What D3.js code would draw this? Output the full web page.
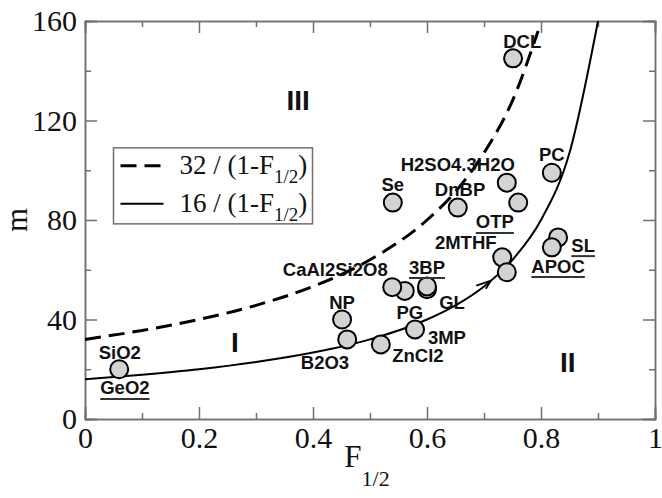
<!DOCTYPE html>
<html>
<head>
<meta charset="utf-8">
<script src="https://cdn.jsdelivr.net/npm/d3@7"></script>
<style>
  body { margin: 0; background: #fff; }
  svg { display: block; }
</style>
</head>
<body>
<div id="chart"></div>
<script>
// points: F1/2 vs fragility index m
const names = ["SiO2", "DCL", "PC", "H2SO4.3H2O", "Se", "DnBP", "OTP", "2MTHF", "GL*",
  "SL", "APOC", "PG", "CaAl2Si2O8", "GL", "3BP", "NP", "B2O3", "ZnCl2", "3MP"];
const fHalf = [0.06, 0.751, 0.819, 0.740, 0.540, 0.654, 0.760, 0.732, 0.740,
  0.830, 0.819, 0.561, 0.539, 0.600, 0.600, 0.451, 0.460, 0.519, 0.579];
const mVals = [20, 145, 99, 95, 87, 85, 87, 65, 59,
  73, 69, 51.5, 53, 52.2, 53.3, 40, 32, 30, 36];

// curves
const solidF = [0, 0.1, 0.2, 0.3, 0.4, 0.5, 0.6, 0.65, 0.7, 0.75, 0.8, 0.85, 0.9];
const solidM = [16, 17.8, 20, 22.9, 26.7, 32, 40, 45.7, 53.3, 64, 80, 107, 160];
const dashF = [0, 0.1, 0.2, 0.3, 0.4, 0.5, 0.6, 0.65, 0.7, 0.75, 0.795];
const dashM = [32, 35.6, 40, 45.7, 53.3, 64, 80, 91.4, 107, 128, 156];

// point labels (text, F, m of label centre)
const labelText = ["DCL", "PC", "H2SO4.3H2O", "Se", "DnBP", "OTP", "2MTHF", "CaAl2Si2O8", "3BP",
  "NP", "PG", "GL", "3MP", "ZnCl2", "B2O3", "SiO2", "GeO2", "APOC", "SL"];
const labelF = [0.767, 0.819, 0.654, 0.540, 0.658, 0.719, 0.668, 0.439, 0.600,
  0.451, 0.570, 0.644, 0.635, 0.584, 0.421, 0.061, 0.070, 0.830, 0.874];
const labelM = [151.6, 106.5, 102.5, 94.1, 92.1, 79.2, 70.8, 59.9, 61.1,
  47.0, 43.0, 47.0, 32.6, 25.7, 22.9, 26.9, 12.5, 61.5, 69.9];
const underlined = ["OTP", "3BP", "GeO2", "APOC", "SL"];

const regionText = ["III", "I", "II"];
const regionF = [0.374, 0.263, 0.847];
const regionM = [128.2, 31.0, 22.9];

const xMajor = [0, 0.2, 0.4, 0.6, 0.8, 1];
const xMinor = [0.1, 0.3, 0.5, 0.7, 0.9];
const yMajor = [0, 40, 80, 120, 160];
const yMinor = [20, 60, 100, 140];

const W = 662, H = 498;
const margin = {top: 21, right: 7, bottom: 79, left: 85};
const width = W - margin.left - margin.right,
    height = H - margin.top - margin.bottom;

const svg = d3.select("#chart").append("svg")
    .attr("width", W)
    .attr("height", H)
  .append("g")
    .attr("transform", `translate(${margin.left},${margin.top})`);

const x = d3.scaleLinear().domain([0, 1]).range([0, width]);
const y = d3.scaleLinear().domain([0, 160]).range([height, 0]);

const serif = "'Liberation Serif', 'Times New Roman', serif";
const sans = "'Liberation Sans', Arial, Helvetica, sans-serif";
const frame = "#707070";

// axes, ticks pointing inward on all four sides
function styleAxis(g, fs) {
  g.select(".domain").attr("stroke", frame).attr("stroke-width", 1.5);
  g.selectAll(".tick line").attr("stroke", frame).attr("stroke-width", 1.5);
  g.selectAll("text").attr("font-family", serif).attr("font-size", fs).attr("fill", "#111");
}
function axisPair(axisFn, values, size, fmt) {
  return axisFn.tickValues(values).tickSize(-size).tickPadding(8).tickFormat(fmt);
}

svg.append("g").attr("transform", `translate(0,${height})`)
    .call(axisPair(d3.axisBottom(x), xMajor, 12, d => d3.format("~g")(d)))
    .call(g => styleAxis(g, 30));
svg.append("g").attr("transform", `translate(0,${height})`)
    .call(axisPair(d3.axisBottom(x), xMinor, 6, ""))
    .call(g => styleAxis(g, 30));
svg.append("g")
    .call(axisPair(d3.axisTop(x), xMajor, 12, ""))
    .call(g => styleAxis(g, 30));
svg.append("g")
    .call(axisPair(d3.axisTop(x), xMinor, 6, ""))
    .call(g => styleAxis(g, 30));

svg.append("g")
    .call(axisPair(d3.axisLeft(y), yMajor, 12, d3.format("d")))
    .call(g => styleAxis(g, 30));
svg.append("g")
    .call(axisPair(d3.axisLeft(y), yMinor, 6, ""))
    .call(g => styleAxis(g, 30));
svg.append("g").attr("transform", `translate(${width},0)`)
    .call(axisPair(d3.axisRight(y), yMajor, 12, ""))
    .call(g => styleAxis(g, 30));
svg.append("g").attr("transform", `translate(${width},0)`)
    .call(axisPair(d3.axisRight(y), yMinor, 6, ""))
    .call(g => styleAxis(g, 30));

// axis titles
const xt = svg.append("text")
    .attr("x", x(0.455))
    .attr("y", height + 48)
    .attr("font-family", serif)
    .attr("font-size", 31)
    .attr("fill", "#111");
xt.append("tspan").text("F");
xt.append("tspan").attr("font-size", 22).attr("dy", 19).text("1/2");

svg.append("text")
    .attr("transform", `translate(${-margin.left + 27},${y(80)}) rotate(-90)`)
    .attr("text-anchor", "middle")
    .attr("font-family", serif)
    .attr("font-size", 31)
    .attr("fill", "#111")
    .text("m");

// curves
const line = d3.line()
    .x(d => x(d[0]))
    .y(d => y(d[1]))
    .curve(d3.curveMonotoneX);

svg.append("path")
    .datum(dashF.map((f, i) => [f, dashM[i]]))
    .attr("fill", "none")
    .attr("stroke", "#000")
    .attr("stroke-width", 3)
    .attr("stroke-dasharray", "16,8")
    .attr("d", line);

svg.append("path")
    .datum(solidF.map((f, i) => [f, solidM[i]]))
    .attr("fill", "none")
    .attr("stroke", "#000")
    .attr("stroke-width", 2)
    .attr("d", line);

// small arrowhead on the curve, GL -> high point
svg.append("path")
    .attr("d", d3.line()([[x(0.697) - 6, y(53.2) - 1], [x(0.712), y(55.6)], [x(0.705) - 1, y(55.6) + 8]]))
    .attr("fill", "none")
    .attr("stroke", "#000")
    .attr("stroke-width", 1.8);

// points
svg.selectAll(".pt")
    .data(names.map((n, i) => ({name: n, f: fHalf[i], m: mVals[i]})))
  .enter().append("circle")
    .attr("class", "pt")
    .attr("cx", d => x(d.f))
    .attr("cy", d => y(d.m))
    .attr("r", 9)
    .attr("fill", "#d3d3d3")
    .attr("stroke", "#000")
    .attr("stroke-width", 2);

// point labels
const labels = svg.selectAll(".lbl")
    .data(labelText.map((t, i) => ({t, f: labelF[i], m: labelM[i]})))
  .enter().append("text")
    .attr("class", "lbl")
    .attr("x", d => x(d.f))
    .attr("y", d => y(d.m) + 6.5)
    .attr("text-anchor", "middle")
    .attr("font-family", sans)
    .attr("font-weight", "bold")
    .attr("font-size", 18.5)
    .attr("fill", "#111")
    .text(d => d.t);

labels.filter(d => underlined.includes(d.t)).each(function(d) {
  const w = this.getComputedTextLength();
  svg.append("line")
      .attr("x1", x(d.f) - w / 2)
      .attr("x2", x(d.f) + w / 2)
      .attr("y1", y(d.m) + 11)
      .attr("y2", y(d.m) + 11)
      .attr("stroke", "#333")
      .attr("stroke-width", 2);
});

// region numerals
svg.selectAll(".region")
    .data(regionText.map((t, i) => ({t, f: regionF[i], m: regionM[i]})))
  .enter().append("text")
    .attr("class", "region")
    .attr("x", d => x(d.f))
    .attr("y", d => y(d.m) + 10)
    .attr("text-anchor", "middle")
    .attr("font-family", sans)
    .attr("font-weight", "bold")
    .attr("font-size", 28)
    .attr("fill", "#111")
    .text(d => d.t);

// legend
const leg = svg.append("g").attr("transform", `translate(${x(0.05)},${y(109)})`);
leg.append("rect")
    .attr("width", 199)
    .attr("height", 76)
    .attr("fill", "#fff")
    .attr("stroke", frame)
    .attr("stroke-width", 1.5);
const legItems = [{num: "32", dash: "16,8", sw: 3, yy: 18}, {num: "16", dash: null, sw: 2, yy: 56}];
legItems.forEach(it => {
  leg.append("line")
      .attr("x1", 7).attr("x2", 50)
      .attr("y1", it.yy).attr("y2", it.yy)
      .attr("stroke", "#000")
      .attr("stroke-width", it.sw)
      .attr("stroke-dasharray", it.dash);
  const t = leg.append("text")
      .attr("x", 66)
      .attr("y", it.yy + 8)
      .attr("font-family", serif)
      .attr("font-size", 27)
      .attr("fill", "#111");
  t.append("tspan").text(it.num + " / (1-F");
  t.append("tspan").attr("font-size", 19).attr("dy", 9).text("1/2");
  t.append("tspan").attr("dy", -9).text(")");
});
</script>
</body>
</html>
